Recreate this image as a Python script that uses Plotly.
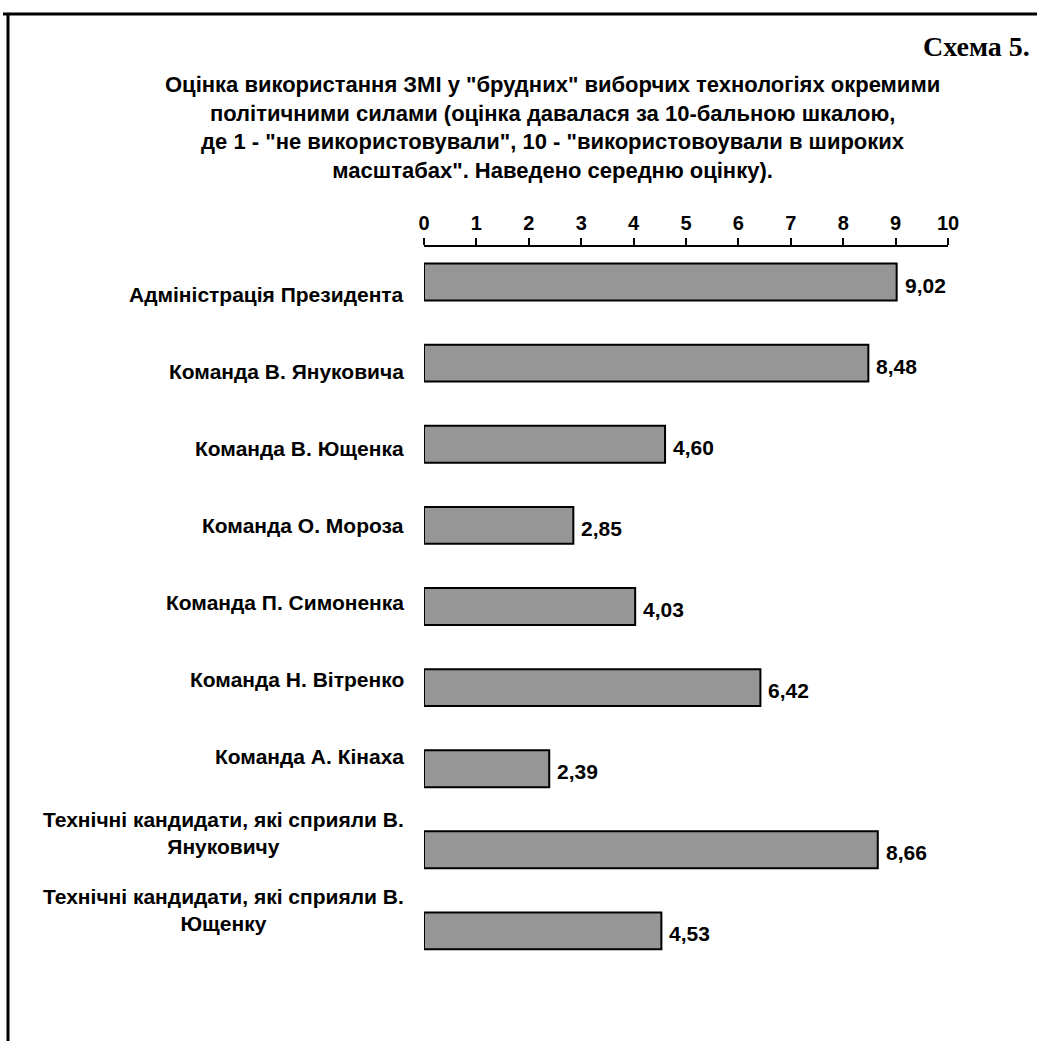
import plotly.graph_objects as go

categories = [
    "Адміністрація Президента",
    "Команда В. Януковича",
    "Команда В. Ющенка",
    "Команда О. Мороза",
    "Команда П. Симоненка",
    "Команда Н. Вітренко",
    "Команда А. Кінаха",
    "Технічні кандидати, які сприяли В.<br>Януковичу",
    "Технічні кандидати, які сприяли В.<br>Ющенку",
]
values = [9.02, 8.48, 4.60, 2.85, 4.03, 6.42, 2.39, 8.66, 4.53]
value_labels = ["9,02", "8,48", "4,60", "2,85", "4,03", "6,42", "2,39", "8,66", "4,53"]
tick_vals = list(range(0, 11))

FONT = "Liberation Sans, Arial, sans-serif"
W, H = 1037, 1041

# plot area in pixels
plot_top, plot_bot = 247, 1000
left, right = 424, 948
pw, ph = right - left, plot_bot - plot_top


def px(x):
    return (x - left) / pw


def py(y):
    return (plot_bot - y) / ph


fig = go.Figure()
fig.add_trace(go.Bar(
    x=values,
    y=list(range(len(categories))),
    orientation="h",
    marker=dict(color="#969696", line=dict(color="#000000", width=2)),
    width=0.455,
    hoverinfo="skip",
))

# value labels
for i, (v, t) in enumerate(zip(values, value_labels)):
    fig.add_annotation(
        x=v, xref="x", y=i, yref="y", text="<b>%s</b>" % t, showarrow=False,
        xanchor="left", yanchor="middle", xshift=6, yshift=-3,
        font=dict(family=FONT, size=21, color="#000"),
    )

# category labels (centered multi-line, right anchored)
for i, c in enumerate(categories):
    fig.add_annotation(
        x=px(406), xref="paper", y=i, yref="y",
        text="<b>%s</b>" % c, showarrow=False, xanchor="right", align="center",
        yanchor="middle", yshift=-12 + 4.1 * i,
        font=dict(family=FONT, size=21, color="#000"),
    )

title_text = ("<b>Оцінка використання ЗМІ у \"брудних\" виборчих технологіях окремими<br>"
              "політичними силами (оцінка давалася за 10-бальною шкалою,<br>"
              "де 1 - \"не використовували\", 10 - \"використовоували в широких<br>"
              "масштабах\". Наведено середню оцінку).</b>")
fig.add_annotation(
    x=px(552), xref="paper", y=py(128), yref="paper",
    text=title_text, showarrow=False, xanchor="center", yanchor="middle",
    align="center", font=dict(family=FONT, size=22, color="#000"),
)
fig.add_annotation(
    x=px(1032), xref="paper", y=py(46), yref="paper",
    text="<b>Схема 5.</b>", showarrow=False, xanchor="right", yanchor="middle",
    font=dict(family="Liberation Serif, Times New Roman, serif", size=28, color="#000"),
)

# frame: top line and left line
fig.add_shape(type="line", xref="paper", yref="paper",
              x0=px(3), x1=px(W + 2), y0=py(14), y1=py(14),
              line=dict(color="#000", width=3))
fig.add_shape(type="line", xref="paper", yref="paper",
              x0=px(8), x1=px(8), y0=py(13), y1=py(H + 2),
              line=dict(color="#000", width=3))

spacing = 81.0
top_units = (282 - plot_top) / spacing
bot_units = (plot_bot - 931) / spacing

fig.update_layout(
    width=W, height=H,
    margin=dict(l=left, r=W - right, t=plot_top, b=H - plot_bot, pad=0),
    paper_bgcolor="white", plot_bgcolor="white",
    showlegend=False,
    font=dict(family=FONT, size=19, color="#000"),
    xaxis=dict(
        side="top", range=[0, 10], tickvals=tick_vals,
        ticktext=["<b>%d</b>" % t for t in tick_vals],
        ticks="outside", ticklen=7, tickwidth=2, tickcolor="#000",
        showline=True, linecolor="#000", linewidth=2,
        showgrid=False, zeroline=False,
        tickfont=dict(family=FONT, size=20, color="#000"),
        fixedrange=True,
    ),
    yaxis=dict(
        range=[8 + bot_units, -top_units],
        showticklabels=False, showgrid=False, zeroline=False,
        showline=False, ticks="",
    ),
)

fig.write_html("out.html")
